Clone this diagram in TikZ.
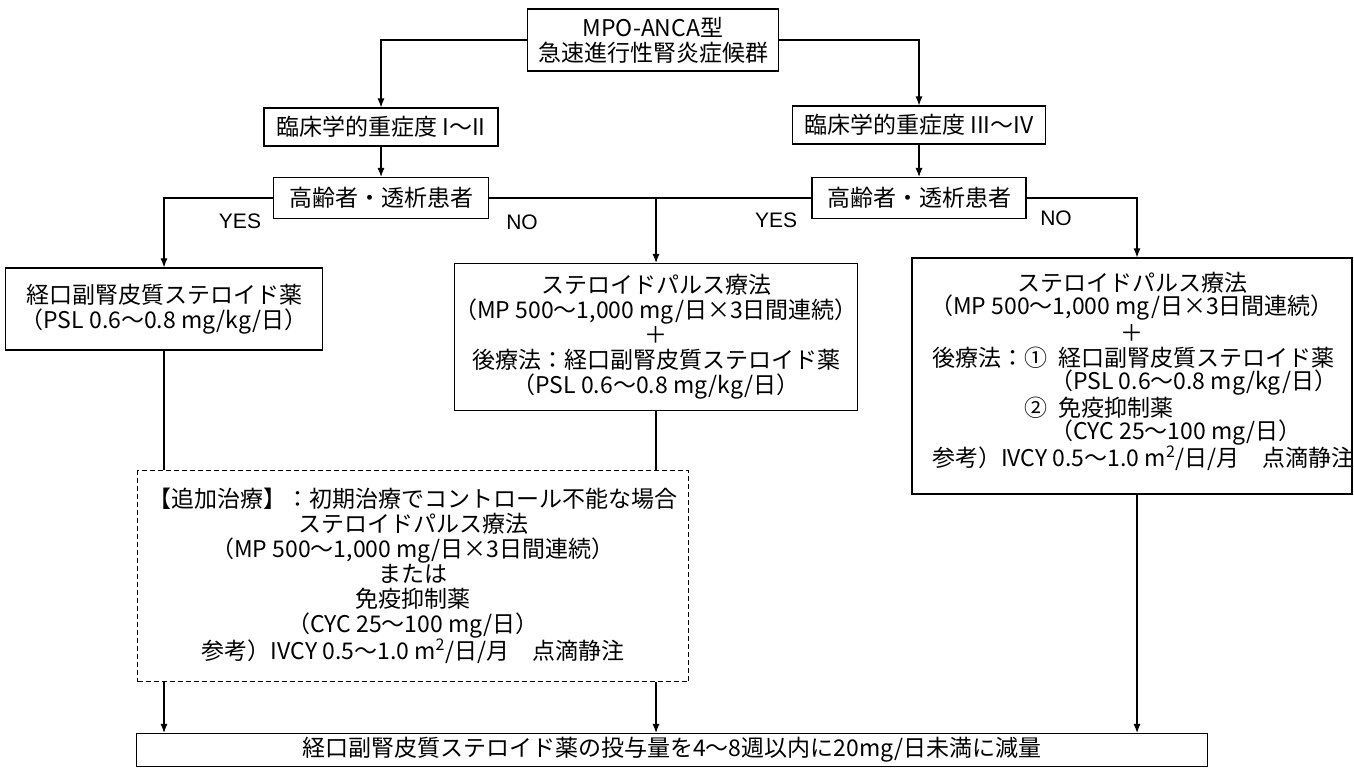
\documentclass[tikz,border=0pt]{standalone}
\usepackage{fontspec}
\setmainfont{Noto Sans CJK JP}
\newfontfamily\labfont{Liberation Sans}
\usetikzlibrary{arrows.meta}
\begin{document}
\begin{tikzpicture}[x=1pt,y=-1pt,
  every node/.style={font=\fontsize{23}{25}\selectfont},
  box/.style={draw, line width=1.1pt, align=center, inner sep=0pt},
  dbox/.style={box, dash pattern=on 5pt off 3pt},
  txt/.style={inner sep=0pt},
  lab/.style={inner sep=0pt, font=\labfont\fontsize{21}{21}\selectfont},
  conn/.style={line width=1.1pt},
  arr/.style={conn, -{Latex[length=9pt,width=7pt]}}]
\useasboundingbox (0,0) rectangle (1354,768);

\node[box, minimum width=251pt, minimum height=62pt] (top) at (653,40) {MPO-ANCA型\\急速進行性腎炎症候群};
\node[box, minimum width=234pt, minimum height=38pt] (b1) at (381,127) {臨床学的重症度 I～II};
\node[box, minimum width=253pt, minimum height=38pt] (b2) at (919,125) {臨床学的重症度 III～IV};
\node[box, minimum width=215pt, minimum height=41pt] (k1) at (381,198) {高齢者・透析患者};
\node[box, minimum width=214pt, minimum height=41pt] (k2) at (919,198) {高齢者・透析患者};

\node[box, minimum width=317pt, minimum height=82pt] (c1) at (164,309) {経口副腎皮質ステロイド薬\\（PSL 0.6～0.8 mg/kg/日）};
\node[box, minimum width=403pt, minimum height=147pt] (m) at (656,337) {ステロイドパルス療法\\（MP 500～1,000 mg/日×3日間連続）\\＋\\後療法：経口副腎皮質ステロイド薬\\（PSL 0.6～0.8 mg/kg/日）};
\node[box, minimum width=440pt, minimum height=236pt] (r) at (1132,376) {};
\node[dbox, minimum width=551pt, minimum height=211pt] (d) at (413,576) {【追加治療】：初期治療でコントロール不能な場合\\ステロイドパルス療法\\（MP 500～1,000 mg/日×3日間連続）\\または\\免疫抑制薬\\（CYC 25～100 mg/日）\\参考）IVCY 0.5～1.0 m\textsuperscript{2}/日/月　点滴静注};
\node[box, minimum width=1071pt, minimum height=33pt] (bx) at (672,750) {経口副腎皮質ステロイド薬の投与量を4～8週以内に20mg/日未満に減量};

% right box contents
\node[txt] (r1) at (1132,283) {ステロイドパルス療法};
\node[txt] (r2) at (1132,308) {（MP 500～1,000 mg/日×3日間連続）};
\node[txt] (r3) at (1132,333) {＋};
\node[txt, anchor=west] (r4a) at (932,358) {後療法：①};
\node[txt, anchor=west] (r4b) at (1058,358) {経口副腎皮質ステロイド薬};
\node[txt, anchor=west] (r5) at (1050,383) {（PSL 0.6～0.8 mg/kg/日）};
\node[txt, anchor=west] (r6a) at (1024,408) {②};
\node[txt, anchor=west] (r6b) at (1058,408) {免疫抑制薬};
\node[txt, anchor=west] (r7) at (1050,433) {（CYC 25～100 mg/日）};
\node[txt, anchor=west] (r8) at (932,458) {参考）IVCY 0.5～1.0 m\textsuperscript{2}/日/月　点滴静注};

% labels
\node[lab] (yes1) at (240,221) {YES};
\node[lab] (no1) at (522,222) {NO};
\node[lab] (yes2) at (776,220) {YES};
\node[lab] (no2) at (1056,218) {NO};

% connectors
\coordinate (rin) at ([xshift=5pt]r.north);
\draw[arr] (top.west) -| (b1.north);
\draw[arr] (top.east) -| (b2.north);
\draw[arr] (b1.south) -- (k1.north);
\draw[arr] (b2.south) -- (k2.north);
\draw[arr] (k1.west) -| (c1.north);
\draw[conn] (k1.east) -- (k2.west);
\draw[arr] (k1.east -| m.north) -- (m.north);
\draw[arr] (k2.east) -| (rin);
\draw[conn] (c1.south) -- (c1.south |- d.north);
\draw[conn] (m.south) -- (m.south |- d.north);
\draw[arr] (d.south -| c1.south) -- (c1.south |- bx.north);
\draw[arr] (d.south -| m.south) -- (m.south |- bx.north);
\draw[arr] (r.south -| rin) -- (rin |- bx.north);
\end{tikzpicture}
\end{document}
